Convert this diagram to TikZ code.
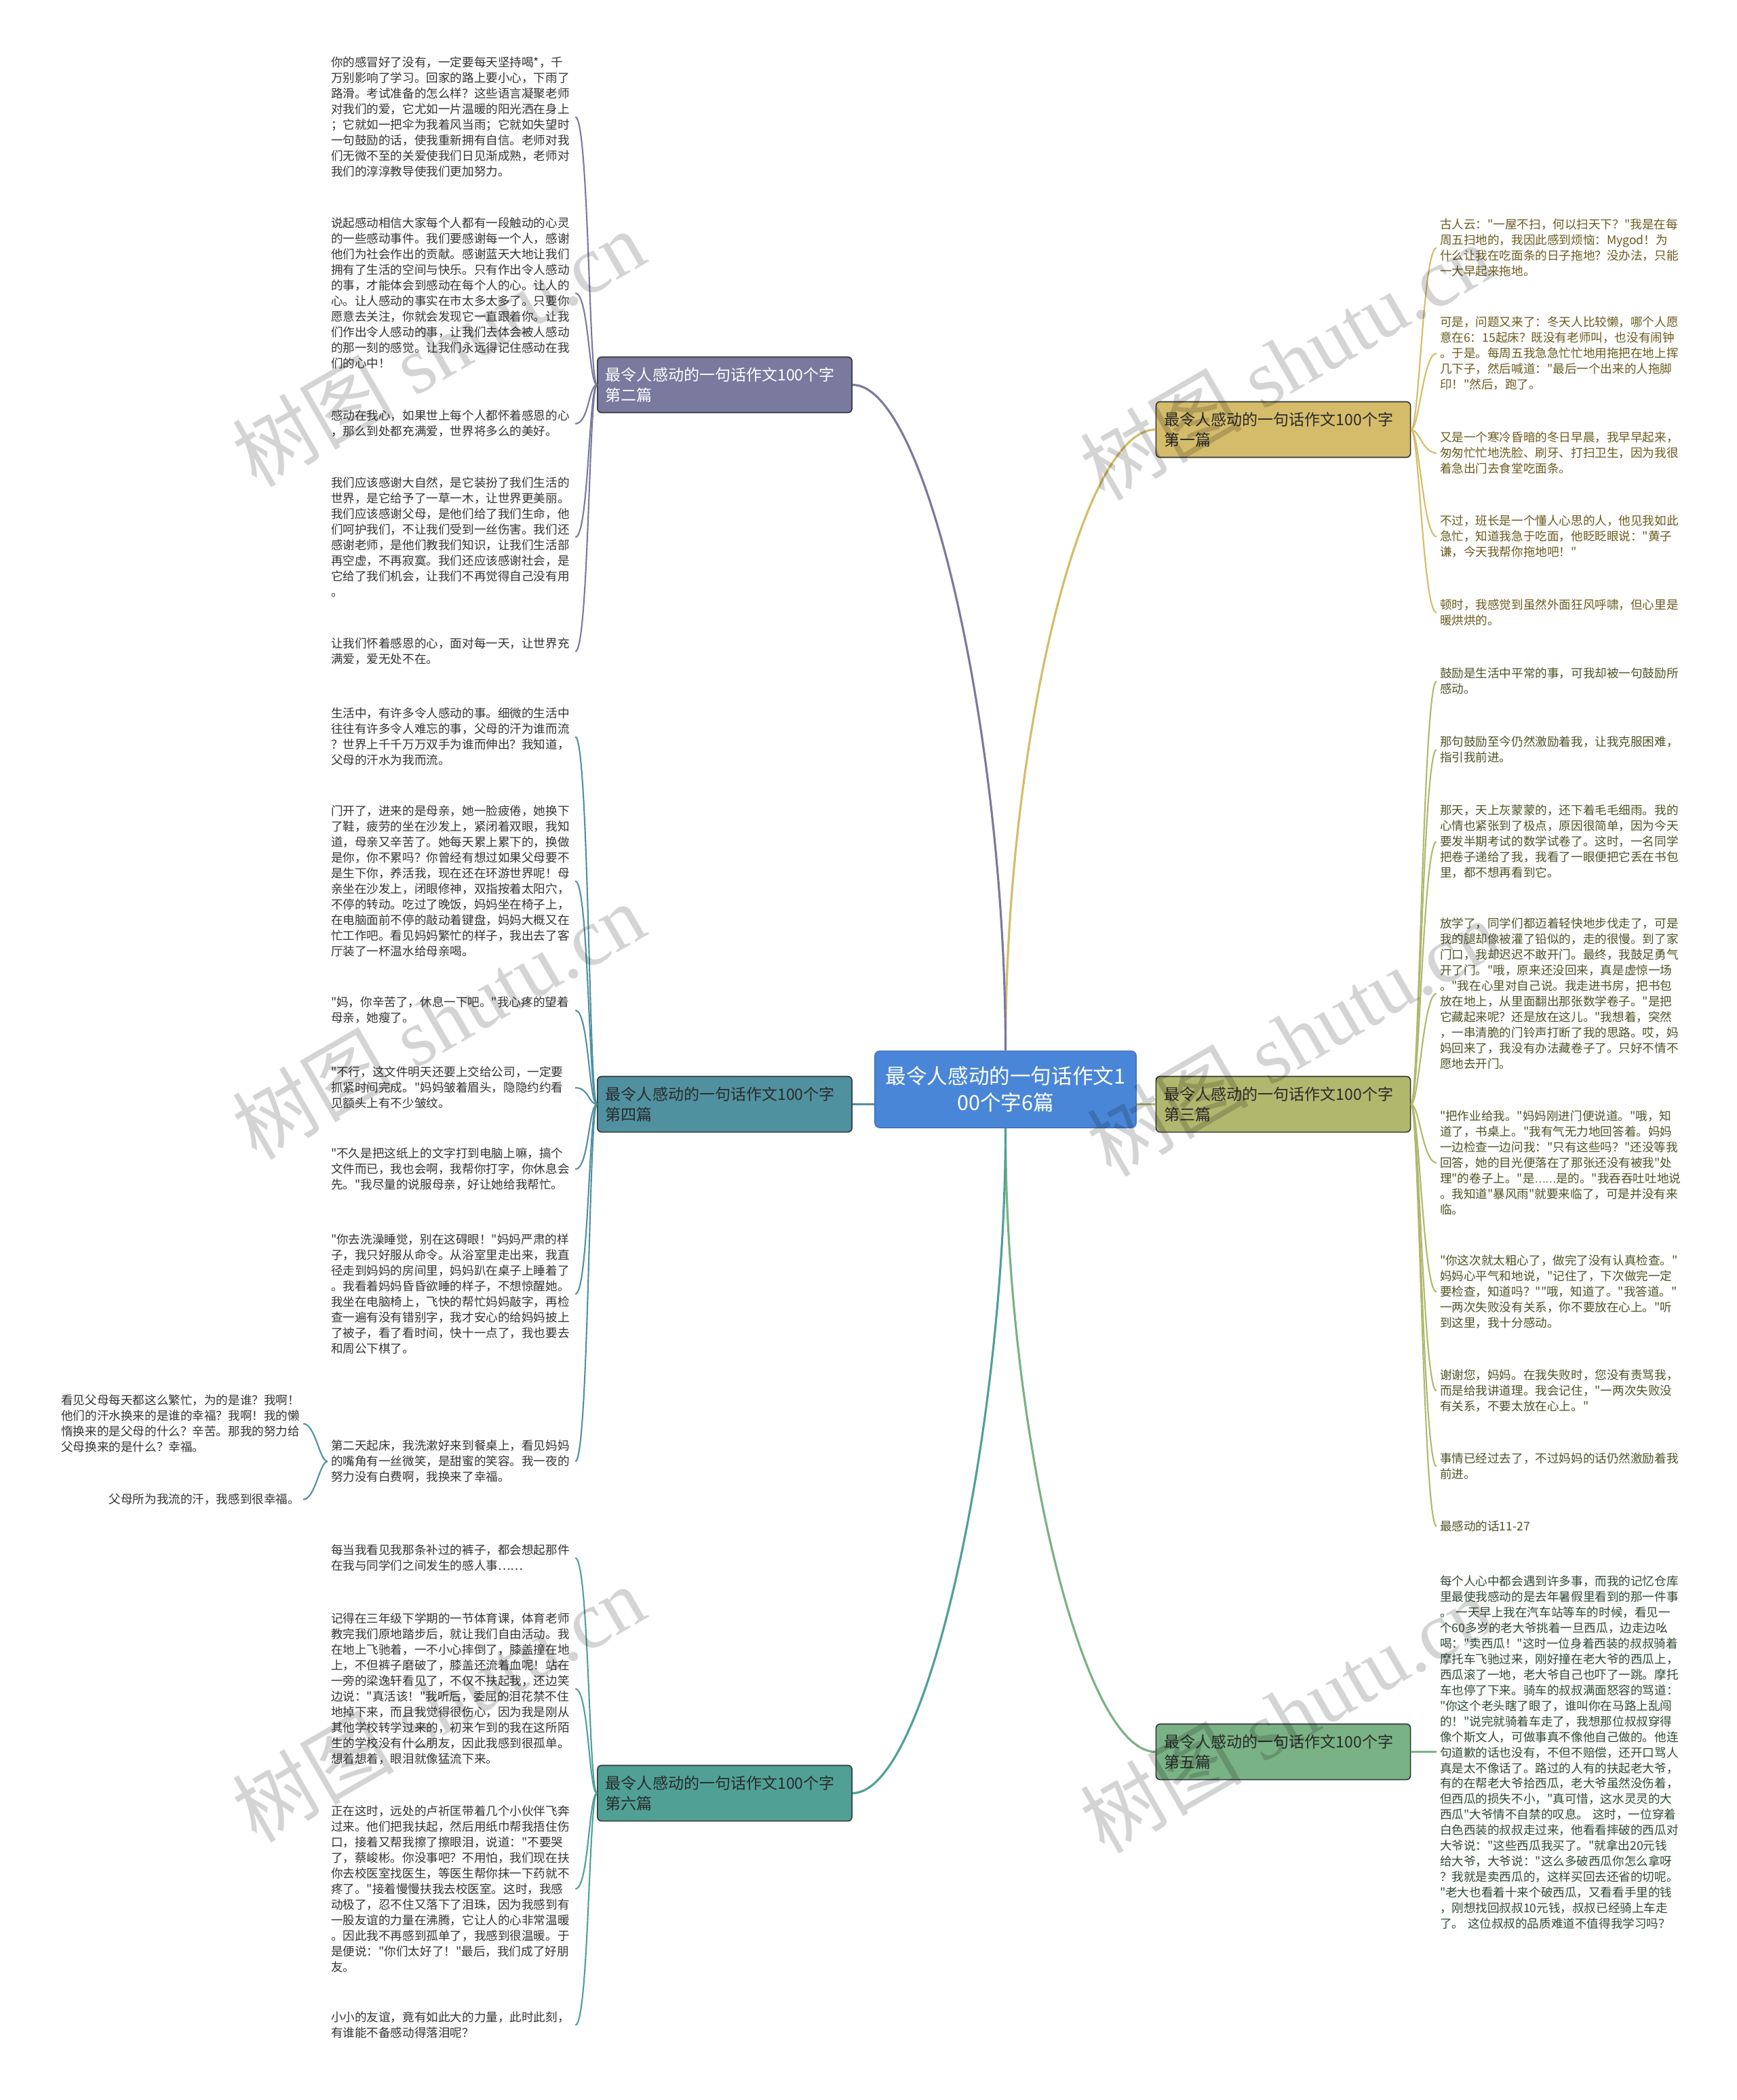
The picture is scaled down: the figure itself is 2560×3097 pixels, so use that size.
\documentclass[tikz,border=0pt]{standalone}
\usepackage{fontspec}
\newfontfamily\cjk{Noto Sans CJK SC}
\newfontfamily\wmfont{Liberation Serif}
\definecolor{cCen}{HTML}{4A86D8}
\definecolor{cOne}{HTML}{D4BC6A}
\definecolor{cTwo}{HTML}{7A799E}
\definecolor{cThree}{HTML}{B0B86E}
\definecolor{cFour}{HTML}{5091A0}
\definecolor{cFive}{HTML}{79B284}
\definecolor{cSix}{HTML}{50A096}
\definecolor{tLeft}{HTML}{333333}
\definecolor{tOne}{HTML}{6B5A1E}
\definecolor{tThree}{HTML}{4F5226}
\definecolor{tFive}{HTML}{2E4A33}
\definecolor{tDark}{HTML}{2A2A2A}
\begin{document}
\begin{tikzpicture}[x=0.01cm,y=-0.01cm,
  leaf/.style={anchor=north west, inner xsep=0.05cm, inner ysep=0pt, outer sep=0pt, text width=3.55cm, align=left, font=\cjk\fontsize{5}{6.52}\selectfont},
  leafsub/.style={anchor=north east, inner sep=0pt, outer sep=0pt, align=left, font=\cjk\fontsize{5}{6.52}\selectfont, text=tLeft},
  branch/.style={rectangle, rounded corners=0.06cm, draw=black!80, line width=0.45pt, minimum height=0.82cm, inner xsep=0.12cm, text width=3.51cm, align=left, font=\cjk\fontsize{6.55}{8.4}\selectfont},
  cline/.style={line width=0.9pt},
  lline/.style={line width=0.6pt},
  wm/.style={rotate=30, text=black, opacity=0.17, font=\fontsize{34}{34}\selectfont, inner sep=0pt}
]
\useasboundingbox (0,0) rectangle (2560,3097);
\fill[white] (0,0) rectangle (2560,3097);

% center and branches
\node[rectangle, rounded corners=0.07cm, fill=cCen, draw=cCen!85!black, line width=0.4pt, minimum width=3.85cm, minimum height=1.13cm, align=center, text=white, font=\cjk\fontsize{8.7}{11.2}\selectfont] (c) at (1482.5,1606.5) {最令人感动的一句话作文1\\00个字6篇};
\node[branch, fill=cOne, text=tDark] (b1) at (1892,633.5) {最令人感动的一句话作文100个字\\第一篇};
\node[branch, fill=cTwo, text=white] (b2) at (1068.5,567.5) {最令人感动的一句话作文100个字\\第二篇};
\node[branch, fill=cThree, text=tDark] (b3) at (1892,1628.5) {最令人感动的一句话作文100个字\\第三篇};
\node[branch, fill=cFour, text=tDark] (b4) at (1068.5,1628.5) {最令人感动的一句话作文100个字\\第四篇};
\node[branch, fill=cFive, text=tDark] (b5) at (1892,2583.5) {最令人感动的一句话作文100个字\\第五篇};
\node[branch, fill=cSix, text=tDark] (b6) at (1068.5,2644.5) {最令人感动的一句话作文100个字\\第六篇};

\draw[cline, cOne] (c.north) .. controls (1482.5,1100) and (1593,633.5) .. (b1.west);
\draw[cline, cTwo] (c.north) .. controls (1482.5,1100) and (1369,567.5) .. (b2.east);
\draw[cline, cThree] (c.east |- b3.west) -- (b3.west);
\draw[cline, cFour] (c.west |- b4.east) -- (b4.east);
\draw[cline, cFive] (c.south) .. controls (1482.5,2100) and (1593,2583.5) .. (b5.west);
\draw[cline, cSix] (c.south) .. controls (1482.5,2100) and (1369,2644.5) .. (b6.east);

% branch 2 leaves
\node[leaf, text=tLeft] (l2a) at (483,84) {你的感冒好了没有，一定要每天坚持喝*，千\\万别影响了学习。回家的路上要小心，下雨了\\路滑。考试准备的怎么样？这些语言凝聚老师\\对我们的爱，它尤如一片温暖的阳光洒在身上\\；它就如一把伞为我着风当雨；它就如失望时\\一句鼓励的话，使我重新拥有自信。老师对我\\们无微不至的关爱使我们日见渐成熟，老师对\\我们的淳淳教导使我们更加努力。};
\node[leaf, text=tLeft] (l2b) at (483,321) {说起感动相信大家每个人都有一段触动的心灵\\的一些感动事件。我们要感谢每一个人，感谢\\他们为社会作出的贡献。感谢蓝天大地让我们\\拥有了生活的空间与快乐。只有作出令人感动\\的事，才能体会到感动在每个人的心。让人的\\心。让人感动的事实在市太多太多了。只要你\\愿意去关注，你就会发现它一直跟着你。让我\\们作出令人感动的事，让我们去体会被人感动\\的那一刻的感觉。让我们永远得记住感动在我\\们的心中！};
\node[leaf, text=tLeft] (l2c) at (483,605) {感动在我心，如果世上每个人都怀着感恩的心\\，那么到处都充满爱，世界将多么的美好。};
\node[leaf, text=tLeft] (l2d) at (483,704) {我们应该感谢大自然，是它装扮了我们生活的\\世界，是它给予了一草一木，让世界更美丽。\\我们应该感谢父母，是他们给了我们生命，他\\们呵护我们，不让我们受到一丝伤害。我们还\\感谢老师，是他们教我们知识，让我们生活部\\再空虚，不再寂寞。我们还应该感谢社会，是\\它给了我们机会，让我们不再觉得自己没有用\\。};
\node[leaf, text=tLeft] (l2e) at (483,941) {让我们怀着感恩的心，面对每一天，让世界充\\满爱，爱无处不在。};
\foreach \l in {l2a,l2b,l2c,l2d,l2e}
  \draw[lline, cTwo] (b2.west) .. controls +(-12,0) and +(20,0) .. (\l.east);

% branch 4 leaves
\node[leaf, text=tLeft] (l4a) at (483,1044) {生活中，有许多令人感动的事。细微的生活中\\往往有许多令人难忘的事，父母的汗为谁而流\\？世界上千千万万双手为谁而伸出？我知道，\\父母的汗水为我而流。};
\node[leaf, text=tLeft] (l4b) at (483,1188) {门开了，进来的是母亲，她一脸疲倦，她换下\\了鞋，疲劳的坐在沙发上，紧闭着双眼，我知\\道，母亲又辛苦了。她每天累上累下的，换做\\是你，你不累吗？你曾经有想过如果父母要不\\是生下你，养活我，现在还在环游世界呢！母\\亲坐在沙发上，闭眼修神，双指按着太阳穴，\\不停的转动。吃过了晚饭，妈妈坐在椅子上，\\在电脑面前不停的敲动着键盘，妈妈大概又在\\忙工作吧。看见妈妈繁忙的样子，我出去了客\\厅装了一杯温水给母亲喝。};
\node[leaf, text=tLeft] (l4c) at (483,1470) {"妈，你辛苦了，休息一下吧。"我心疼的望着\\母亲，她瘦了。};
\node[leaf, text=tLeft] (l4d) at (483,1573) {"不行，这文件明天还要上交给公司，一定要\\抓紧时间完成。"妈妈皱着眉头，隐隐约约看\\见额头上有不少皱纹。};
\node[leaf, text=tLeft] (l4e) at (483,1693) {"不久是把这纸上的文字打到电脑上嘛，搞个\\文件而已，我也会啊，我帮你打字，你休息会\\先。"我尽量的说服母亲，好让她给我帮忙。};
\node[leaf, text=tLeft] (l4f) at (483,1820) {"你去洗澡睡觉，别在这碍眼！"妈妈严肃的样\\子，我只好服从命令。从浴室里走出来，我直\\径走到妈妈的房间里，妈妈趴在桌子上睡着了\\。我看着妈妈昏昏欲睡的样子，不想惊醒她。\\我坐在电脑椅上，飞快的帮忙妈妈敲字，再检\\查一遍有没有错别字，我才安心的给妈妈披上\\了被子，看了看时间，快十一点了，我也要去\\和周公下棋了。};
\node[leaf, text=tLeft] (l4g) at (483,2124) {第二天起床，我洗漱好来到餐桌上，看见妈妈\\的嘴角有一丝微笑，是甜蜜的笑容。我一夜的\\努力没有白费啊，我换来了幸福。};
\foreach \l in {l4a,l4b,l4c,l4d,l4e,l4f,l4g}
  \draw[lline, cFour] (b4.west) .. controls +(-12,0) and +(20,0) .. (\l.east);
\node[leafsub] (l4g1) at (442,2057) {看见父母每天都这么繁忙，为的是谁？我啊！\\他们的汗水换来的是谁的幸福？我啊！我的懒\\惰换来的是父母的什么？辛苦。那我的努力给\\父母换来的是什么？幸福。};
\node[leafsub] (l4g2) at (442,2203) {父母所为我流的汗，我感到很幸福。};
\foreach \l in {l4g1,l4g2}
  \draw[lline, cFour] (l4g.west) .. controls +(-12,0) and +(18,0) .. ([xshift=0.05cm]\l.east);

% branch 6 leaves
\node[leaf, text=tLeft] (l6a) at (483,2278) {每当我看见我那条补过的裤子，都会想起那件\\在我与同学们之间发生的感人事……};
\node[leaf, text=tLeft] (l6b) at (483,2379) {记得在三年级下学期的一节体育课，体育老师\\教完我们原地踏步后，就让我们自由活动。我\\在地上飞驰着，一不小心摔倒了，膝盖撞在地\\上，不但裤子磨破了，膝盖还流着血呢！站在\\一旁的梁逸轩看见了，不仅不扶起我，还边笑\\边说："真活该！"我听后，委屈的泪花禁不住\\地掉下来，而且我觉得很伤心，因为我是刚从\\其他学校转学过来的，初来乍到的我在这所陌\\生的学校没有什么朋友，因此我感到很孤单。\\想着想着，眼泪就像猛流下来。};
\node[leaf, text=tLeft] (l6c) at (483,2663) {正在这时，远处的卢祈匡带着几个小伙伴飞奔\\过来。他们把我扶起，然后用纸巾帮我捂住伤\\口，接着又帮我擦了擦眼泪，说道："不要哭\\了，蔡峻彬。你没事吧？不用怕，我们现在扶\\你去校医室找医生，等医生帮你抹一下药就不\\疼了。"接着慢慢扶我去校医室。这时，我感\\动极了，忍不住又落下了泪珠，因为我感到有\\一股友谊的力量在沸腾，它让人的心非常温暖\\。因此我不再感到孤单了，我感到很温暖。于\\是便说："你们太好了！"最后，我们成了好朋\\友。};
\node[leaf, text=tLeft] (l6d) at (483,2967) {小小的友谊，竟有如此大的力量，此时此刻，\\有谁能不备感动得落泪呢？};
\foreach \l in {l6a,l6b,l6c,l6d}
  \draw[lline, cSix] (b6.west) .. controls +(-12,0) and +(20,0) .. (\l.east);

% branch 1 leaves
\node[leaf, text=tOne] (r1a) at (2118,323) {古人云："一屋不扫，何以扫天下？"我是在每\\周五扫地的，我因此感到烦恼：Mygod！为\\什么让我在吃面条的日子拖地？没办法，只能\\一大早起来拖地。};
\node[leaf, text=tOne] (r1b) at (2118,467) {可是，问题又来了：冬天人比较懒，哪个人愿\\意在6：15起床？既没有老师叫，也没有闹钟\\。于是。每周五我急急忙忙地用拖把在地上挥\\几下子，然后喊道："最后一个出来的人拖脚\\印！"然后，跑了。};
\node[leaf, text=tOne] (r1c) at (2118,637) {又是一个寒冷昏暗的冬日早晨，我早早起来，\\匆匆忙忙地洗脸、刷牙、打扫卫生，因为我很\\着急出门去食堂吃面条。};
\node[leaf, text=tOne] (r1d) at (2118,760) {不过，班长是一个懂人心思的人，他见我如此\\急忙，知道我急于吃面，他眨眨眼说："黄子\\谦，今天我帮你拖地吧！"};
\node[leaf, text=tOne] (r1e) at (2118,884) {顿时，我感觉到虽然外面狂风呼啸，但心里是\\暖烘烘的。};
\foreach \l in {r1a,r1b,r1c,r1d,r1e}
  \draw[lline, cOne] (b1.east) .. controls +(12,0) and +(-20,0) .. (\l.west);

% branch 3 leaves
\node[leaf, text=tThree] (r3a) at (2118,985) {鼓励是生活中平常的事，可我却被一句鼓励所\\感动。};
\node[leaf, text=tThree] (r3b) at (2118,1086) {那句鼓励至今仍然激励着我，让我克服困难，\\指引我前进。};
\node[leaf, text=tThree] (r3c) at (2118,1187) {那天，天上灰蒙蒙的，还下着毛毛细雨。我的\\心情也紧张到了极点，原因很简单，因为今天\\要发半期考试的数学试卷了。这时，一名同学\\把卷子递给了我，我看了一眼便把它丢在书包\\里，都不想再看到它。};
\node[leaf, text=tThree] (r3d) at (2118,1354) {放学了，同学们都迈着轻快地步伐走了，可是\\我的腿却像被灌了铅似的，走的很慢。到了家\\门口，我却迟迟不敢开门。最终，我鼓足勇气\\开了门。"哦，原来还没回来，真是虚惊一场\\。"我在心里对自己说。我走进书房，把书包\\放在地上，从里面翻出那张数学卷子。"是把\\它藏起来呢？还是放在这儿。"我想着，突然\\，一串清脆的门铃声打断了我的思路。哎，妈\\妈回来了，我没有办法藏卷子了。只好不情不\\愿地去开门。};
\node[leaf, text=tThree] (r3e) at (2118,1638) {"把作业给我。"妈妈刚进门便说道。"哦，知\\道了，书桌上。"我有气无力地回答着。妈妈\\一边检查一边问我："只有这些吗？"还没等我\\回答，她的目光便落在了那张还没有被我"处\\理"的卷子上。"是{\fontsize{4.2}{6.52}\selectfont ……}是的。"我吞吞吐吐地说\\。我知道"暴风雨"就要来临了，可是并没有来\\临。};
\node[leaf, text=tThree] (r3f) at (2118,1851) {"你这次就太粗心了，做完了没有认真检查。"\\妈妈心平气和地说，"记住了，下次做完一定\\要检查，知道吗？""哦，知道了。"我答道。"\\一两次失败没有关系，你不要放在心上。"听\\到这里，我十分感动。};
\node[leaf, text=tThree] (r3g) at (2118,2020) {谢谢您，妈妈。在我失败时，您没有责骂我，\\而是给我讲道理。我会记住，"一两次失败没\\有关系，不要太放在心上。"};
\node[leaf, text=tThree] (r3h) at (2118,2143) {事情已经过去了，不过妈妈的话仍然激励着我\\前进。};
\node[leaf, text=tThree] (r3i) at (2118,2243) {最感动的话11-27};
\foreach \l in {r3a,r3b,r3c,r3d,r3e,r3f,r3g,r3h,r3i}
  \draw[lline, cThree] (b3.east) .. controls +(12,0) and +(-20,0) .. (\l.west);

% branch 5 leaf
\node[leaf, text=tFive] (r5a) at (2118,2324) {每个人心中都会遇到许多事，而我的记忆仓库\\里最使我感动的是去年暑假里看到的那一件事\\。~一天早上我在汽车站等车的时候，看见一\\个60多岁的老大爷挑着一旦西瓜，边走边吆\\喝："卖西瓜！"这时一位身着西装的叔叔骑着\\摩托车飞驰过来，刚好撞在老大爷的西瓜上，\\西瓜滚了一地，老大爷自己也吓了一跳。摩托\\车也停了下来。骑车的叔叔满面怒容的骂道：\\"你这个老头瞎了眼了，谁叫你在马路上乱闯\\的！"说完就骑着车走了，我想那位叔叔穿得\\像个斯文人，可做事真不像他自己做的。他连\\句道歉的话也没有，不但不赔偿，还开口骂人\\真是太不像话了。路过的人有的扶起老大爷，\\有的在帮老大爷拾西瓜，老大爷虽然没伤着，\\但西瓜的损失不小，"真可惜，这水灵灵的大\\西瓜"大爷情不自禁的叹息。~这时，一位穿着\\白色西装的叔叔走过来，他看看摔破的西瓜对\\大爷说："这些西瓜我买了。"就拿出20元钱\\给大爷，大爷说："这么多破西瓜你怎么拿呀\\？我就是卖西瓜的，这样买回去还省的切呢。\\"老大也看着十来个破西瓜，又看看手里的钱\\，刚想找回叔叔10元钱，叔叔已经骑上车走\\了。~这位叔叔的品质难道不值得我学习吗？};
\draw[lline, cFive] (b5.east) -- (b5.east -| r5a.west);

% watermarks
\foreach \p in {(646,513),(1896,533),(646,1505),(1906,1530),(646,2512),(1896,2528)}
  \node[wm] at \p {{\cjk 树图}{\wmfont\ shutu.cn}};
\end{tikzpicture}
\end{document}
